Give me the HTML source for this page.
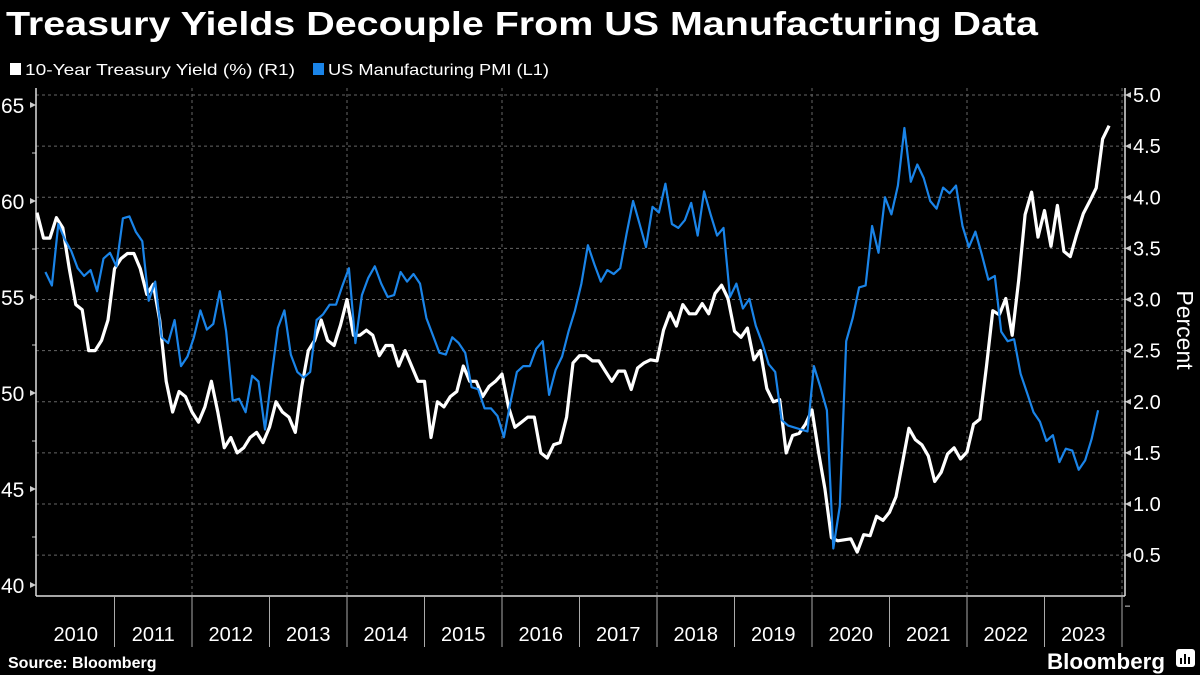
<!DOCTYPE html>
<html><head><meta charset="utf-8"><style>
html,body{margin:0;padding:0;background:#000;width:1200px;height:675px;overflow:hidden}
svg{display:block;font-family:"Liberation Sans",sans-serif}
</style></head><body>
<svg id="chart" width="1200" height="675" viewBox="0 0 1200 675">
<text x="6" y="35" fill="#fff" font-size="33" font-weight="bold" textLength="1032" lengthAdjust="spacingAndGlyphs">Treasury Yields Decouple From US Manufacturing Data</text>
<g>
<rect x="10" y="63" width="11" height="12" fill="#fff"/>
<text x="25" y="75" fill="#fff" font-size="16" textLength="270" lengthAdjust="spacingAndGlyphs">10-Year Treasury Yield (%) (R1)</text>
<rect x="313" y="63" width="11" height="12" fill="#1a84e8"/>
<text x="328" y="75" fill="#fff" font-size="16" textLength="221" lengthAdjust="spacingAndGlyphs">US Manufacturing PMI (L1)</text>
</g>
<g id="grid"></g>
<g id="axes"></g>
<g id="series"></g>
<text x="8" y="668" fill="#fff" font-size="16" font-weight="bold">Source: Bloomberg</text>
<text x="1047" y="669" fill="#fff" font-size="22" font-weight="bold" textLength="118" lengthAdjust="spacingAndGlyphs">Bloomberg</text>
<g><rect x="1176" y="649" width="19" height="18" rx="3" fill="#fff"/><rect x="1180" y="658" width="2" height="6" fill="#000"/><rect x="1184" y="654" width="2" height="10" fill="#000"/><rect x="1188" y="657" width="2" height="7" fill="#000"/></g>
</svg>
<script>
const years = [2010,2011,2012,2013,2014,2015,2016,2017,2018,2019,2020,2021,2022,2023];
const leftTicks = [40,45,50,55,60,65];
const rightTicks = [0.5,1.0,1.5,2.0,2.5,3.0,3.5,4.0,4.5,5.0];
const pmiValues = [56.3,55.6,58.8,58.0,57.4,56.5,56.1,56.4,55.3,57.0,57.3,56.6,59.1,
59.2,58.4,57.9,54.8,55.8,52.9,52.6,53.8,51.4,51.9,52.9,54.3,
53.3,53.6,55.3,53.2,49.6,49.7,49.0,50.9,50.6,48.1,50.8,53.4,
54.3,52.0,51.1,50.8,51.1,53.8,54.1,54.6,54.6,55.6,56.5,52.6,
55.1,56.0,56.6,55.7,55.0,55.1,56.3,55.8,56.2,
55.7,53.9,53.0,52.1,52.0,52.9,52.6,52.1,50.3,50.2,49.2,49.2,48.8,47.7,49.5,51.1,51.4,51.4,52.3,52.7,49.9,51.2,51.9,53.2,54.3,55.7,57.7,56.7,55.8,56.4,56.2,56.5,58.3,60.0,58.8,57.6,59.7,59.4,60.9,58.8,58.6,59.0,59.9,58.2,60.5,59.3,58.2,58.6,55.0,55.7,54.4,54.9,53.5,52.6,51.5,51.1,48.6,48.3,48.2,
48.1,48.0,51.4,50.3,49.1,41.9,44.1,52.7,53.9,55.5,55.6,58.7,57.3,60.2,59.3,60.8,63.8,61.0,61.9,61.2,60.0,59.6,60.7,60.4,60.8,58.7,57.6,58.4,57.2,55.9,56.1,53.2,52.7,52.8,51.0,50.0,49.0,48.5,47.5,47.8,46.4,47.1,47.0,46.0,46.5,47.6,49.1];
const yieldStart = 3.85;
const yieldValues = [3.6,3.6,3.8,3.7,3.3,2.95,2.9,2.5,2.5,2.6,2.8,3.3,
3.4,3.45,3.45,3.3,3.05,3.15,2.8,2.2,1.9,2.1,2.05,1.9,
1.8,1.95,2.2,1.9,1.55,1.65,1.5,1.55,1.65,1.7,1.6,1.75,
2.0,1.9,1.85,1.7,2.15,2.5,2.6,2.8,2.6,2.55,2.75,3.0,
2.65,2.65,2.7,2.65,2.45,2.55,2.55,2.35,2.5,2.35,2.2,2.2,
1.65,2.0,1.95,2.05,2.1,2.35,2.2,2.2,2.05,2.15,2.2,2.27,
1.95,1.75,1.8,1.85,1.85,1.5,1.45,1.58,1.6,1.85,2.38,2.45,
2.45,2.4,2.4,2.3,2.2,2.3,2.3,2.12,2.33,2.38,2.41,2.4,
2.7,2.87,2.74,2.95,2.86,2.86,2.96,2.86,3.06,3.14,3.01,2.69,
2.63,2.72,2.41,2.5,2.13,2.0,2.02,1.5,1.67,1.69,1.78,1.92,
1.51,1.15,0.67,0.64,0.65,0.66,0.53,0.7,0.69,0.88,0.84,0.92,
1.07,1.4,1.74,1.63,1.58,1.47,1.22,1.31,1.49,1.55,1.44,1.51,
1.78,1.83,2.34,2.89,2.85,3.01,2.65,3.19,3.83,4.05,3.61,3.87,
3.52,3.92,3.47,3.42,3.64,3.84,3.96,4.09,4.57,4.7];

const NS='http://www.w3.org/2000/svg';
const X0=37, YW=77.5, LEFTX=36, RIGHTX=1125, TOP=88, BOT=596;
function xScale(t){return X0+YW*(t-2010);}
function yLeft(v){return 105+(65-v)*19.2;}
function yRight(v){return 95+(5-v)*102.25;}
function mk(tag,attrs,parent){const e=document.createElementNS(NS,tag);for(const k in attrs)e.setAttribute(k,attrs[k]);parent.appendChild(e);return e;}
const grid=document.getElementById('grid'), axes=document.getElementById('axes'), series=document.getElementById('series');

rightTicks.forEach(v=>{
  const y=yRight(v);
  const g=mk('line',{x1:LEFTX,x2:RIGHTX,y1:y,y2:y,stroke:'#666','stroke-width':1,'stroke-dasharray':'3,3'},grid);
  
  
  const tk=mk('path',{d:`M${RIGHTX} ${y} l6 -3 v6 z`,fill:'#ccc'},axes);
  
  
  const t=mk('text',{x:RIGHTX+8,y:y+7,fill:'#fff','font-size':20},axes);
  t.textContent=v.toFixed(1);
  
  
  const m=mk('line',{x1:RIGHTX,x2:RIGHTX+5,y1:y+51,y2:y+51,stroke:'#ccc'},axes);
  
  
});
for(let yr=2012;yr<=2024;yr+=2){
  const x=xScale(yr);
  const g=mk('line',{x1:x,x2:x,y1:TOP,y2:BOT,stroke:'#666','stroke-width':1,'stroke-dasharray':'3,3'},grid);
  
  
}
leftTicks.forEach(v=>{
  const y=yLeft(v);
  const tk=mk('path',{d:`M${LEFTX} ${y} l-6 -3 v6 z`,fill:'#ccc'},axes);
  
  
  const t=mk('text',{x:1,y:y+8,fill:'#fff','font-size':21},axes);
  t.textContent=v;
  
  
  if(v<65){const m=mk('line',{x1:LEFTX-4,x2:LEFTX,y1:y-48,y2:y-48,stroke:'#ccc'},axes);
  
  }
});
[[LEFTX,TOP,LEFTX,BOT],[RIGHTX,TOP,RIGHTX,BOT],[LEFTX,BOT,RIGHTX,BOT]].forEach(a=>{
  const l=mk('line',{x1:a[0],y1:a[1],x2:a[2],y2:a[3],stroke:'#ddd','stroke-width':1.5},axes);
  
  
});
years.forEach(yr=>{
  const x=xScale(yr+1);
  const s=mk('line',{x1:x,x2:x,y1:BOT,y2:647,stroke:'#aaa'},axes);
  
  
  const t=mk('text',{x:xScale(yr+0.5),y:641,fill:'#fff','font-size':20,'text-anchor':'middle'},axes);
  t.textContent=yr;
  
  
});
const pt=mk('text',{x:1177,y:330,fill:'#fff','font-size':23,'text-anchor':'middle',transform:'rotate(90 1177 330)'},axes);
pt.textContent='Percent';



let d='M'+xScale(2010)+' '+yRight(yieldStart);
yieldValues.forEach((v,i)=>{d+=' L'+xScale(2010+(i+1)/12).toFixed(1)+' '+yRight(v).toFixed(1);});
const yl=mk('path',{d:d,fill:'none',stroke:'#fff','stroke-width':3.2,'stroke-linejoin':'round'},series);



let d2='';
pmiValues.forEach((v,i)=>{d2+=(i?' L':'M')+xScale(2010+(i+1.3)/12).toFixed(1)+' '+yLeft(v).toFixed(1);});
const pl=mk('path',{d:d2,fill:'none',stroke:'#1a84e8','stroke-width':2.2,'stroke-linejoin':'round'},series);


</script>
</body></html>
